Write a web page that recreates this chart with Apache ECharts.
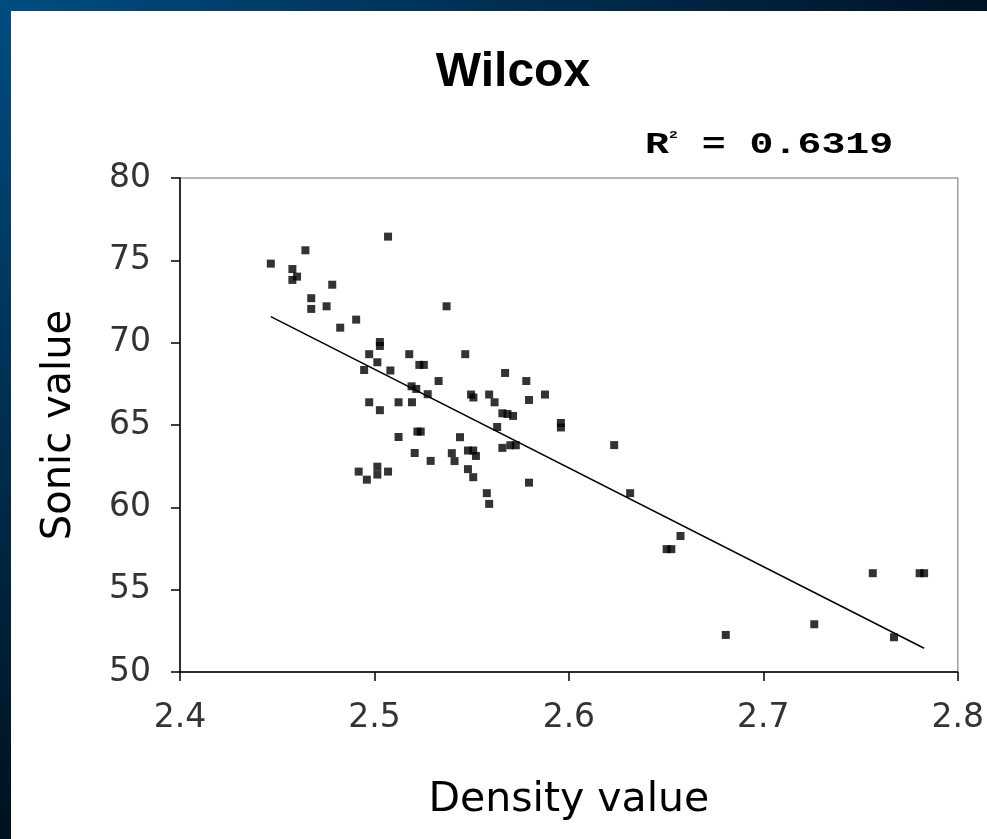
<!DOCTYPE html>
<html>
<head>
<meta charset="utf-8">
<script src="https://cdn.jsdelivr.net/npm/echarts@6/dist/echarts.min.js"></script>
<style>
html,body{margin:0;padding:0;background:#fff;}
#chart{width:987px;height:839px;}
</style>
</head>
<body>
<div id="chart"></div>
<script>
// Density values (x)
const density = [
  2.507, 2.4645, 2.4467, 2.4578, 2.4602, 2.4578, 2.4783, 2.4675, 2.4675, 2.4754,
  2.5371, 2.4906, 2.4824, 2.5028, 2.5028, 2.5179, 2.4973, 2.5467, 2.5015, 2.5231,
  2.5254, 2.4947, 2.5082, 2.5330, 2.5191, 2.5215, 2.5274, 2.5672, 2.5781, 2.5497,
  2.5509, 2.5590, 2.5618, 2.5795, 2.5877, 2.4973, 2.5124, 2.5193, 2.5028, 2.5658,
  2.5684, 2.5713, 2.5631, 2.5959, 2.5959, 2.5440, 2.5398, 2.5412, 2.5481, 2.5508,
  2.5522, 2.5658, 2.5699, 2.5727, 2.6233, 2.5481, 2.5508, 2.5795, 2.5578, 2.5590,
  2.6315, 2.5221, 2.5238, 2.5124, 2.5207, 2.5289, 2.4919, 2.4961, 2.5015, 2.5015,
  2.5070, 2.6574, 2.6503, 2.6527, 2.6807, 2.7262, 2.7563, 2.7804, 2.7827, 2.7672
];
// Sonic values (y)
const sonic = [
  76.44, 75.61, 74.80, 74.47, 74.01, 73.81, 73.52, 72.70, 72.05, 72.21,
  72.21, 71.40, 70.91, 70.04, 69.80, 69.30, 69.30, 69.30, 68.81, 68.65,
  68.65, 68.34, 68.31, 67.67, 67.35, 67.19, 66.87, 68.16, 67.67, 66.85,
  66.67, 66.85, 66.38, 66.52, 66.85, 66.38, 66.38, 66.38, 65.90, 65.71,
  65.67, 65.55, 64.88, 65.12, 64.85, 64.26, 63.29, 62.81, 63.45, 63.45,
  63.12, 63.61, 63.77, 63.77, 63.78, 62.32, 61.83, 61.50, 60.86, 60.21,
  60.86, 64.60, 64.60, 64.27, 63.30, 62.82, 62.17, 61.68, 62.47, 61.99,
  62.17, 58.26, 57.46, 57.46, 52.25, 52.90, 56.00, 56.00, 56.00, 52.11
];
// Linear trendline end points
const trendX = [2.4467, 2.7827];
const trendY = [71.58, 51.44];
const xTicks = [2.4, 2.5, 2.6, 2.7, 2.8];
const yTicks = [50, 55, 60, 65, 70, 75, 80];
const chartTitle = 'Wilcox';
const xName = 'Density value';
const yName = 'Sonic value';
const r2Text = '0.6319';

const points = density.map((d, i) => [d, sonic[i]]);
const trend = trendX.map((d, i) => [d, trendY[i]]);

const chart = echarts.init(document.getElementById('chart'));
chart.setOption({
  backgroundColor: '#ffffff',
  animation: false,
  title: {
    text: chartTitle,
    left: 508,
    top: 44,
    textAlign: 'center',
    textStyle: { fontFamily: 'Liberation Sans', fontWeight: 'bold', fontSize: 48, color: '#000' }
  },
  graphic: [
    { type: 'rect', shape: { x: 0, y: 0, width: 987, height: 11 }, z: 100,
      style: { fill: new echarts.graphic.LinearGradient(0, 0, 1, 0, [
        { offset: 0, color: '#004d82' }, { offset: 1, color: '#001326' }]) } },
    { type: 'rect', shape: { x: 0, y: 0, width: 11, height: 839 }, z: 100,
      style: { fill: new echarts.graphic.LinearGradient(0, 0, 0, 1, [
        { offset: 0, color: '#004d82' }, { offset: 1, color: '#00111f' }]) } },
    { type: 'text', x: 645, y: 130, scaleX: 1.33, scaleY: 1, z: 50,
      style: {
        text: '{r|R}{s|2}{r| = ' + r2Text + '}',
        verticalAlign: 'top',
        rich: {
          r: { fontFamily: 'Liberation Mono', fontWeight: 'bold', fontSize: 30, fill: '#000' },
          s: { fontFamily: 'Liberation Mono', fontWeight: 'bold', fontSize: 11, fill: '#000', verticalAlign: 'top', padding: [0, 0, 14, 0] }
        }
      } }
  ],
  grid: { left: 180, top: 178, width: 780, height: 494, show: true, borderColor: '#a0a0a0', borderWidth: 1.5, backgroundColor: 'transparent' },
  xAxis: {
    type: 'value', min: 2.4, max: 2.8, interval: 0.1,
    name: xName, nameLocation: 'middle', nameGap: 108,
    nameTextStyle: { fontFamily: 'DejaVu Sans', fontSize: 41, color: '#000' },
    axisLine: { show: true, lineStyle: { color: '#000', width: 1.5 } },
    axisTick: { show: true, inside: false, length: 9, lineStyle: { color: '#000', width: 1.5 } },
    axisLabel: { margin: 30, fontFamily: 'DejaVu Sans', fontSize: 33, color: '#333',
      formatter: v => { const t = xTicks.find(k => Math.abs(k - v) < 1e-6); return t !== undefined ? t.toFixed(1) : ''; } },
    splitLine: { show: false }
  },
  yAxis: {
    type: 'value', min: 50, max: 80, interval: 5,
    name: yName, nameLocation: 'middle', nameGap: 100,
    nameTextStyle: { fontFamily: 'DejaVu Sans', fontSize: 40, color: '#000' },
    axisLine: { show: true, lineStyle: { color: '#000', width: 1.5 } },
    axisTick: { show: true, inside: false, length: 9, lineStyle: { color: '#000', width: 1.5 } },
    axisLabel: { margin: 29, fontFamily: 'DejaVu Sans', fontSize: 33, color: '#333',
      formatter: v => (yTicks.includes(v) ? String(v) : '') },
    splitLine: { show: false }
  },
  series: [
    { type: 'scatter', data: points, symbol: 'rect', symbolSize: 8, itemStyle: { color: '#000' }, z: 3 },
    { type: 'line', data: trend, symbol: 'none', lineStyle: { color: '#000', width: 1.5 }, z: 2 }
  ]
});
</script>
</body>
</html>
